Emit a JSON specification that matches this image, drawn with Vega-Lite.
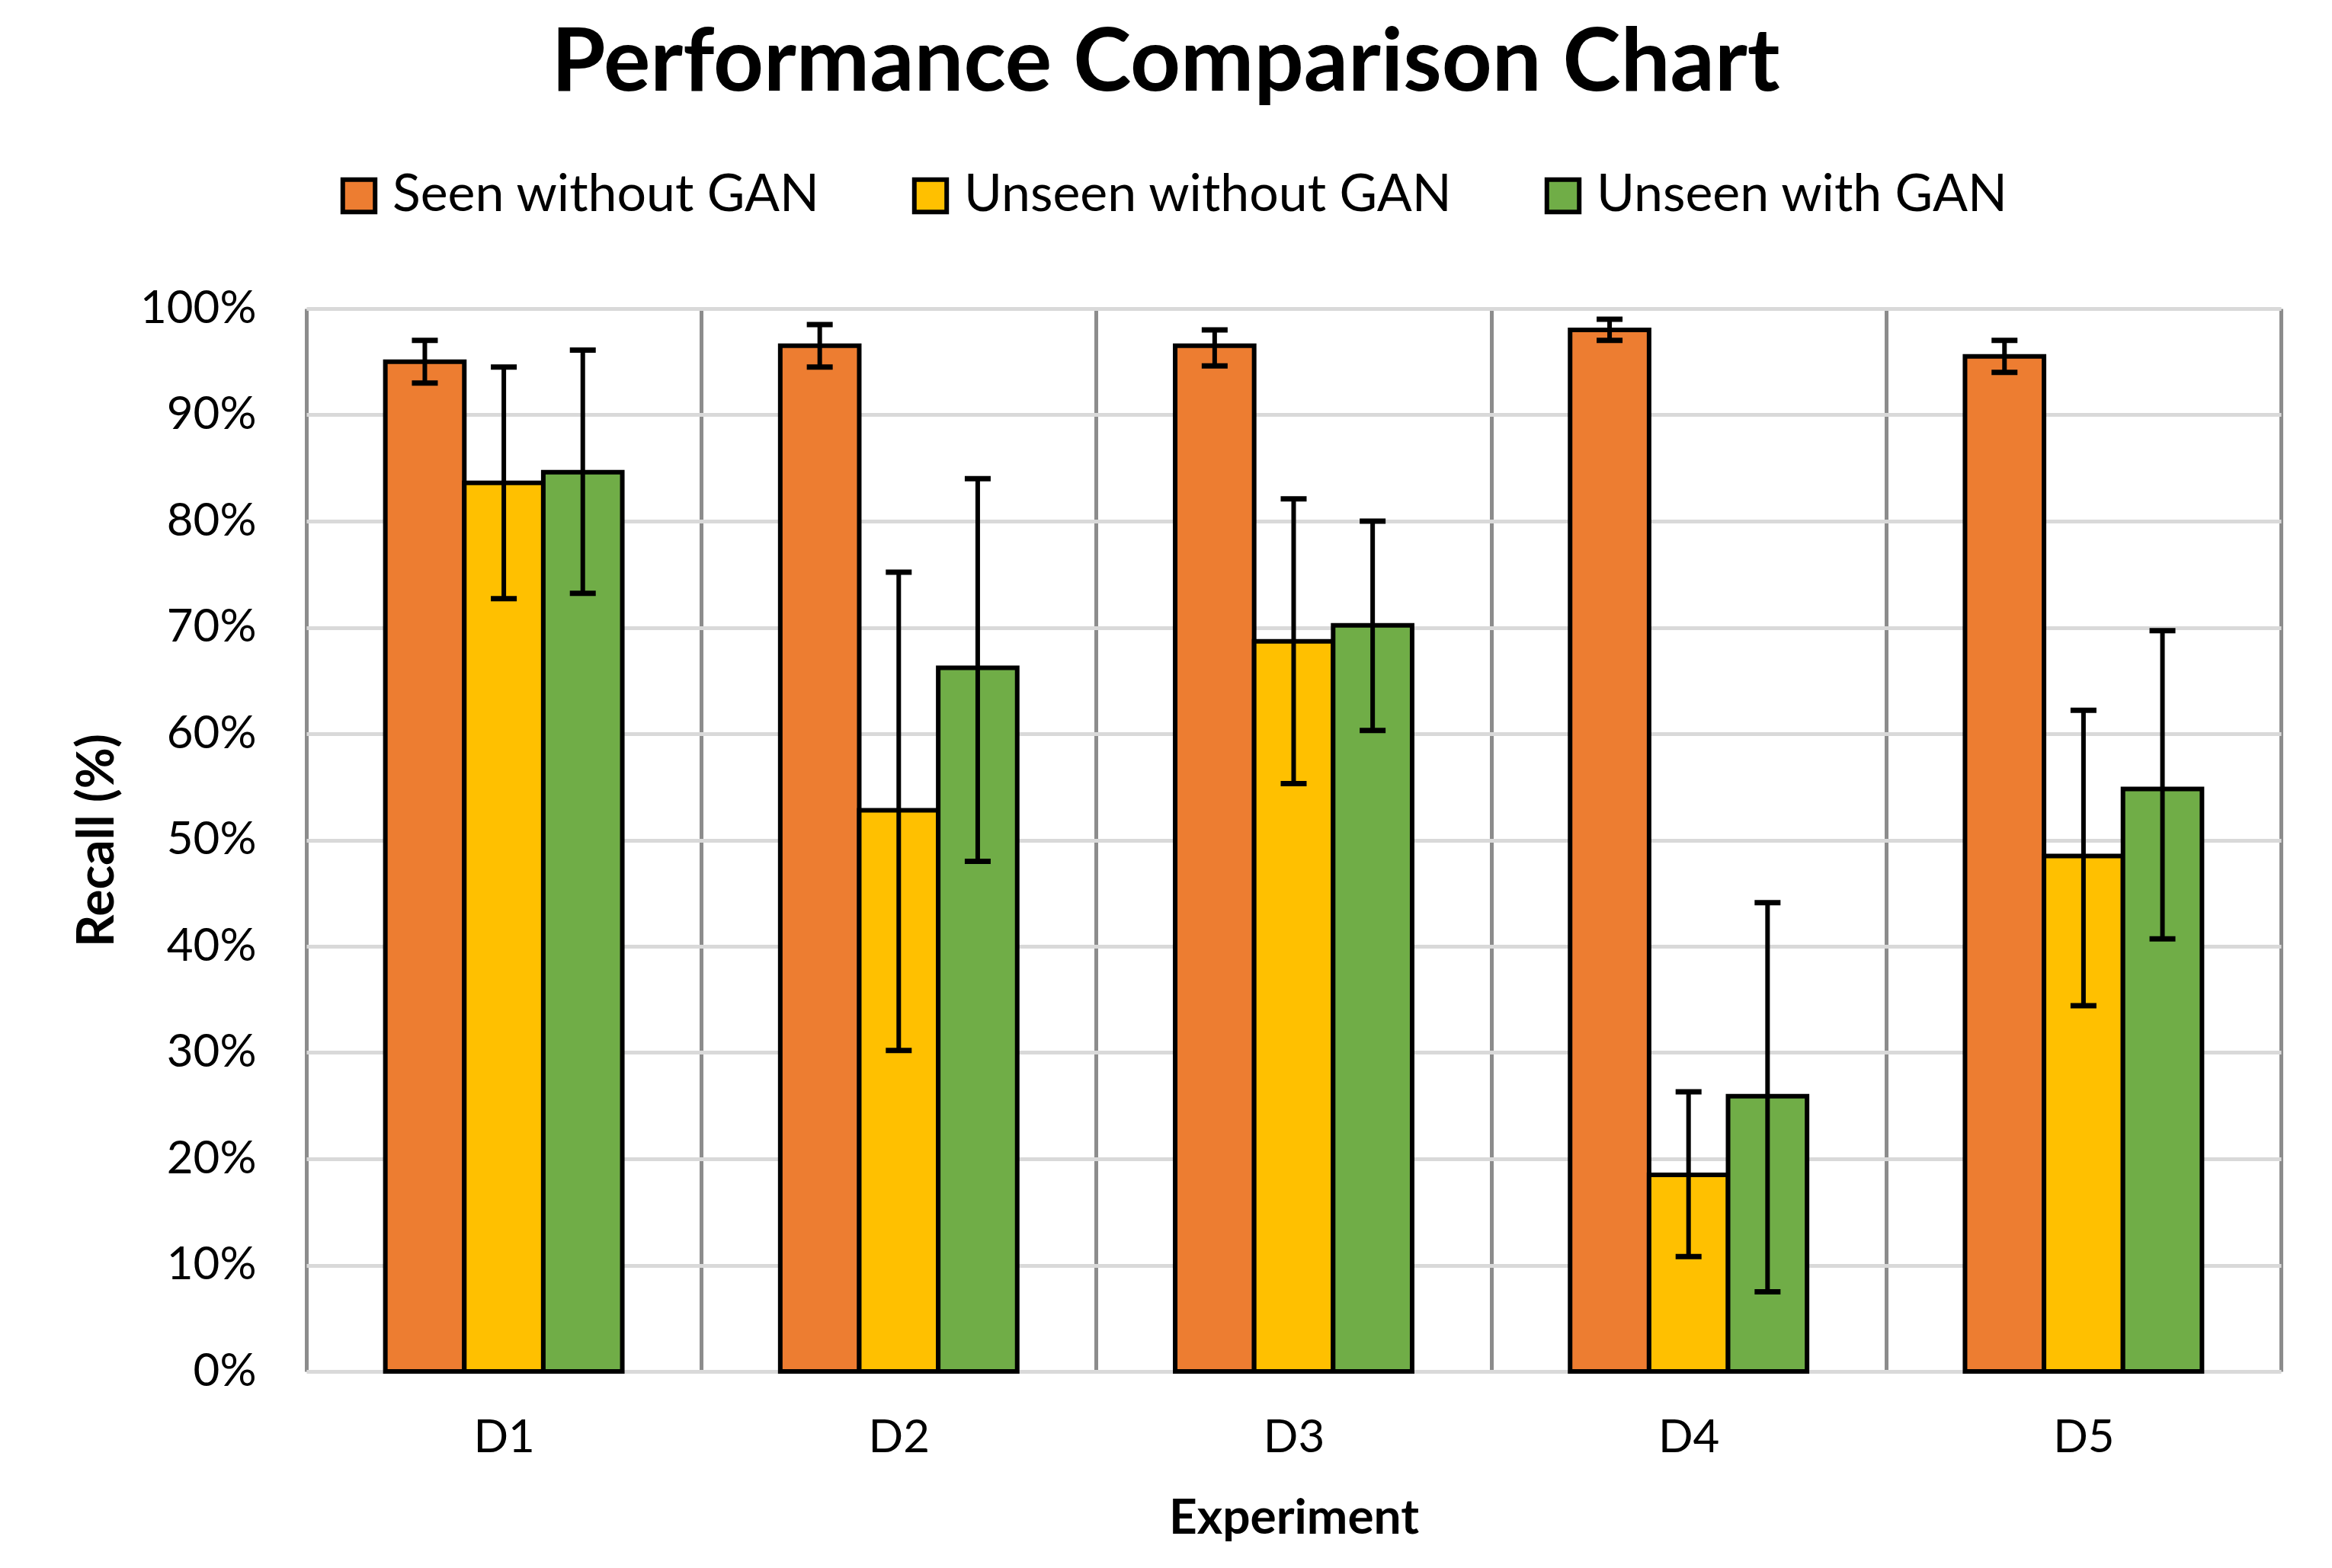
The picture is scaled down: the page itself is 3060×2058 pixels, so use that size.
{
  "$schema": "https://vega.github.io/schema/vega-lite/v6.json",
  "width": 2591,
  "height": 1395,
  "autosize": {"type": "none"},
  "padding": {"left": 402, "top": 405, "right": 67, "bottom": 258},
  "background": "white",
  "title": {"text": "Performance Comparison Chart", "font": "Lato", "fontSize": 115, "fontWeight": "bold", "color": "black", "anchor": "middle", "frame": "group", "dx": -168, "offset": 80},
  "config": {"view": {"stroke": null}, "font": "Lato"},
  "data": {"values": [
    {"exp": "D1", "series": "Seen without GAN", "value": 95.0, "lo": 93.0, "hi": 97.0},
    {"exp": "D1", "series": "Unseen without GAN", "value": 83.6, "lo": 72.7, "hi": 94.5},
    {"exp": "D1", "series": "Unseen with GAN", "value": 84.6, "lo": 73.2, "hi": 96.1},
    {"exp": "D2", "series": "Seen without GAN", "value": 96.5, "lo": 94.5, "hi": 98.5},
    {"exp": "D2", "series": "Unseen without GAN", "value": 52.8, "lo": 30.2, "hi": 75.2},
    {"exp": "D2", "series": "Unseen with GAN", "value": 66.2, "lo": 48.0, "hi": 84.0},
    {"exp": "D3", "series": "Seen without GAN", "value": 96.5, "lo": 94.6, "hi": 98.0},
    {"exp": "D3", "series": "Unseen without GAN", "value": 68.7, "lo": 55.3, "hi": 82.1},
    {"exp": "D3", "series": "Unseen with GAN", "value": 70.2, "lo": 60.3, "hi": 80.0},
    {"exp": "D4", "series": "Seen without GAN", "value": 98.0, "lo": 97.0, "hi": 99.0},
    {"exp": "D4", "series": "Unseen without GAN", "value": 18.5, "lo": 10.8, "hi": 26.3},
    {"exp": "D4", "series": "Unseen with GAN", "value": 25.9, "lo": 7.5, "hi": 44.1},
    {"exp": "D5", "series": "Seen without GAN", "value": 95.5, "lo": 94.0, "hi": 97.0},
    {"exp": "D5", "series": "Unseen without GAN", "value": 48.5, "lo": 34.4, "hi": 62.2},
    {"exp": "D5", "series": "Unseen with GAN", "value": 54.8, "lo": 40.7, "hi": 69.7}
  ]},
  "encoding": {
    "x": {
      "field": "exp", "type": "nominal", "title": "Experiment",
      "scale": {"paddingInner": 0, "paddingOuter": 0},
      "axis": {"tickBand": "extent", "grid": true, "gridColor": "#8C8C8C", "gridWidth": 5, "ticks": false, "domain": false, "labelAngle": 0, "labelFont": "Lato", "labelFontSize": 60, "labelColor": "black", "labelPadding": 58, "titleFont": "Lato", "titleFontSize": 64, "titleFontWeight": "bold", "titlePadding": 44, "titleColor": "black"}
    },
    "xOffset": {"field": "series", "type": "nominal", "sort": ["Seen without GAN", "Unseen without GAN", "Unseen with GAN"], "scale": {"paddingInner": 0, "paddingOuter": 1}}
  },
  "layer": [
    {
      "mark": {"type": "bar", "stroke": "black", "strokeWidth": 6},
      "encoding": {
        "y": {"field": "value", "type": "quantitative", "title": "Recall (%)",
          "scale": {"domain": [0, 100], "nice": false},
          "axis": {"values": [0, 10, 20, 30, 40, 50, 60, 70, 80, 90, 100], "labelExpr": "datum.value + '%'", "labelFont": "Lato", "labelFontSize": 60, "labelColor": "black", "labelPadding": 66, "ticks": false, "tickSize": 0, "domain": false, "grid": true, "gridColor": "#D9D9D9", "gridWidth": 5, "titleFont": "Lato", "titleFontSize": 66, "titleFontWeight": "bold", "titleColor": "black", "titlePadding": 40}},
        "fill": {"field": "series", "type": "nominal", "sort": ["Seen without GAN", "Unseen without GAN", "Unseen with GAN"],
          "scale": {"domain": ["Seen without GAN", "Unseen without GAN", "Unseen with GAN"], "range": ["#ED7D31", "#FFC000", "#70AD47"]},
          "legend": {"orient": "none", "legendX": 35, "legendY": -182, "direction": "horizontal", "title": null, "symbolType": "square", "symbolSize": 1800, "symbolStrokeColor": "black", "symbolStrokeWidth": 6, "labelFont": "Lato", "labelFontSize": 68, "labelColor": "black", "labelOffset": 10, "columnPadding": 110, "padding": 0, "labelLimit": 0}}
      }
    },
    {
      "mark": {"type": "rule", "strokeWidth": 6, "color": "black"},
      "encoding": {"y": {"field": "lo", "type": "quantitative", "title": "Recall (%)"}, "y2": {"field": "hi"}}
    },
    {
      "mark": {"type": "tick", "color": "black", "thickness": 7, "size": 34, "opacity": 1},
      "encoding": {"y": {"field": "lo", "type": "quantitative", "title": "Recall (%)"}}
    },
    {
      "mark": {"type": "tick", "color": "black", "thickness": 7, "size": 34, "opacity": 1},
      "encoding": {"y": {"field": "hi", "type": "quantitative", "title": "Recall (%)"}}
    }
  ]
}
